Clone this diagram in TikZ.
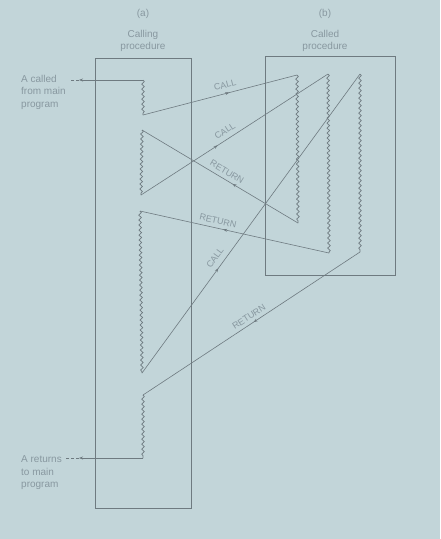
\documentclass[tikz,border=0pt]{standalone}
\usepackage{fontspec}
\setmainfont{Liberation Sans}
\usepackage{tikz}
\usetikzlibrary{decorations.pathmorphing,decorations.markings,arrows.meta}
\definecolor{paper}{HTML}{C2D5D9}
\definecolor{ink}{HTML}{6E7A80}
\definecolor{pencil}{HTML}{8898A0}

\tikzset{
  frame/.style={ink, line width=0.8pt},
  wire/.style={ink, line width=0.6pt},
  wavy/.style={ink, line width=0.7pt, decorate,
    decoration={snake, amplitude=1.3pt, segment length=5pt}},
  flow/.style={wire, postaction={decorate, decoration={markings,
    mark=at position #1 with {\arrow{Stealth[length=4pt,width=3pt]}}}}},
  tag/.style={pencil, font=\fontsize{9}{10}\selectfont, inner sep=1pt},
  caption/.style={pencil, font=\fontsize{10}{12.5}\selectfont, inner sep=0pt},
}

\begin{document}
\begin{tikzpicture}[x=1pt,y=-1pt]
  \fill[paper] (0,0) rectangle (440,539);
  % the two procedures
  \draw[frame] (95,58) rectangle (191,508);
  \draw[frame] (265,56) rectangle (395,275);
  \node[caption] (hdA) at (143,14) {(a)};
  \node[caption, align=center] (calling) at (143,41) {Calling\\procedure};
  \node[caption] (hdB) at (325,14) {(b)};
  \node[caption, align=center] (called) at (325,41) {Called\\procedure};
  \node[caption, align=left, anchor=west] (entry) at (21,92) {A called\\from main\\program};
  \node[caption, align=left, anchor=west] (exit) at (21,473) {A returns\\to main\\program};

  % ends of the pieces of code
  \coordinate (a1t) at (143,80);  \coordinate (a1b) at (143,115);
  \coordinate (a2t) at (142,130); \coordinate (a2b) at (141,195);
  \coordinate (a3t) at (140,211); \coordinate (a3b) at (142,373);
  \coordinate (a4t) at (143,395); \coordinate (a4b) at (143,458);
  \coordinate (b1t) at (297,75);  \coordinate (b1b) at (298,223);
  \coordinate (b2t) at (328,74);  \coordinate (b2b) at (329,253);
  \coordinate (b3t) at (360,74);  \coordinate (b3b) at (360,252);
  \coordinate (inTip) at (79,80);
  \coordinate (outTip) at (79,458);

  \foreach \p in {a1,a2,a3,a4,b1,b2,b3}
    \draw[wavy] (\p t) -- (\p b);

  % entry and exit
  \draw[wire,-{Stealth[length=4pt,width=3pt]}] (a1t) -- (inTip);
  \draw[wire,dash pattern=on 3pt off 2pt] (inTip) -- ([xshift=4pt]entry.east |- inTip);
  \draw[wire,-{Stealth[length=4pt,width=3pt]}] (a4b) -- (outTip);
  \draw[wire,dash pattern=on 3pt off 2pt] (outTip) -- ([xshift=4pt]exit.east |- outTip);

  % calls and returns
  \draw[flow=0.56] (a1b) -- (b1t);
  \draw[flow=0.42] (b1b) -- (a2t);
  \draw[flow=0.41] (a2b) -- (b2t);
  \draw[flow=0.56] (b2b) -- (a3t);
  \draw[flow=0.35] (a3b) -- (b3t);
  \draw[flow=0.49] (b3b) -- (a4t);

  \node[tag, rotate=14] (call1) at (225,85) {CALL};
  \node[tag, rotate=33] (call2) at (225,131) {CALL};
  \node[tag, rotate=-31] (ret1) at (227,172) {RETURN};
  \node[tag, rotate=-12.5] (ret2) at (218,221) {RETURN};
  \node[tag, rotate=54] (call3) at (215,258) {CALL};
  \node[tag, rotate=33] (ret3) at (249,317) {RETURN};
\end{tikzpicture}
\end{document}
